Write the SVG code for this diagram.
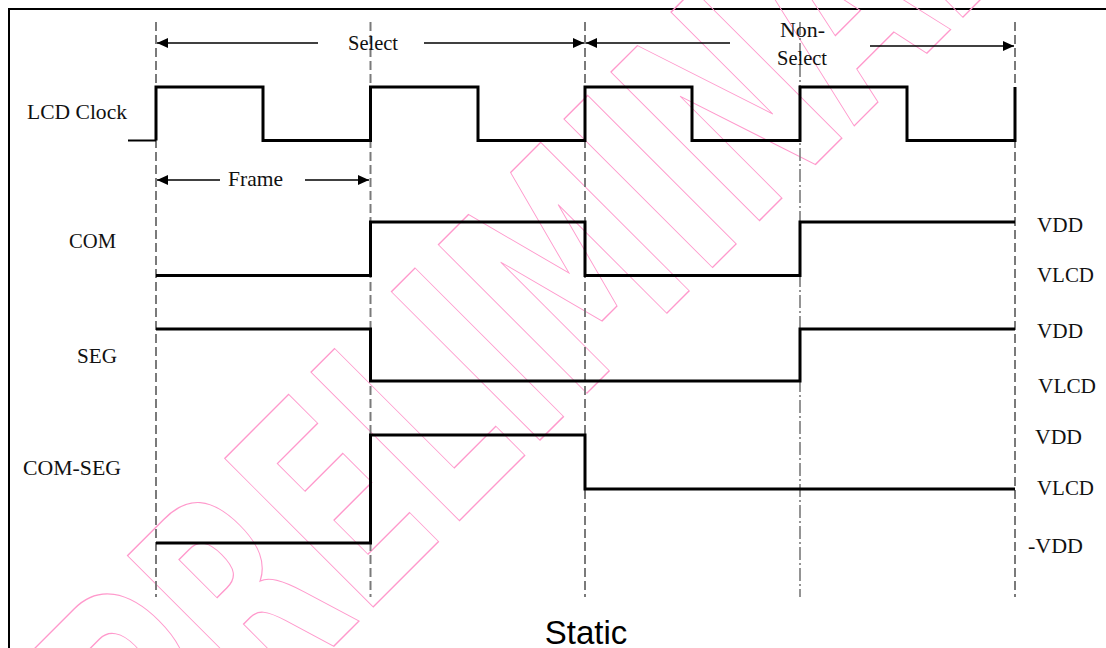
<svg xmlns="http://www.w3.org/2000/svg" width="1106" height="648" viewBox="0 0 1106 648">
<style>
.lbl{font-family:"Liberation Serif","Times New Roman",serif;font-size:21px;fill:#111}
.wave{fill:none;stroke:#000;stroke-width:3;stroke-linejoin:miter}
.grid{stroke:#7a7a7a;stroke-width:2;stroke-dasharray:9 4;fill:none}
.arr{stroke:#000;stroke-width:1.6;fill:none;marker-end:url(#ah)}
.wm{font-family:"DejaVu Sans",sans-serif;font-weight:bold;font-size:288px;fill:none;stroke:#ff99cc;stroke-width:1.4}
</style>
<defs>
<marker id="ah" viewBox="0 0 11 10" refX="11" refY="5" markerWidth="11" markerHeight="10" markerUnits="userSpaceOnUse" orient="auto">
<path d="M0,0 L11,5 L0,10 z" fill="#000"/>
</marker>
</defs>
<rect x="0" y="0" width="1106" height="648" fill="#fff"/>
<rect id="frame-border" x="9" y="9" width="1200" height="700" fill="none" stroke="#000" stroke-width="2"/>
<g id="watermark" transform="translate(373,607) rotate(-45) scale(0.62,1)">
<text class="wm" x="-459" y="0">PRELIMINARY</text>
</g>
<g id="gridlines">
<line class="grid" x1="156" y1="22" x2="156" y2="597"/>
<line class="grid" x1="370.5" y1="22" x2="370.5" y2="597"/>
<line class="grid" x1="585" y1="22" x2="585" y2="597"/>
<line class="grid" x1="800" y1="22" x2="800" y2="597" style="stroke-width:1.6;stroke-dasharray:13 3 2 3"/>
<line class="grid" x1="1015" y1="22" x2="1015" y2="597"/>
</g>
<g id="connectors">
<line class="arr" x1="318" y1="43" x2="157" y2="43"/>
<line class="arr" x1="424" y1="43" x2="584" y2="43"/>
<line class="arr" x1="730" y1="43" x2="586" y2="43"/>
<line class="arr" x1="870" y1="46" x2="1014" y2="46"/>
<line class="arr" x1="220" y1="180" x2="157" y2="180"/>
<line class="arr" x1="305" y1="180" x2="369" y2="180"/>
</g>
<g id="select-label"><text class="lbl" x="348" y="50" textLength="50" lengthAdjust="spacingAndGlyphs">Select</text></g>
<g id="nonselect-label">
<text class="lbl" x="780" y="37" textLength="45" lengthAdjust="spacingAndGlyphs">Non-</text>
<text class="lbl" x="777" y="65" textLength="50" lengthAdjust="spacingAndGlyphs">Select</text>
</g>
<g id="frame-label"><text class="lbl" x="228" y="186" textLength="55" lengthAdjust="spacingAndGlyphs">Frame</text></g>
<g id="lcd-clock">
<text class="lbl" x="27" y="119" textLength="100" lengthAdjust="spacingAndGlyphs">LCD Clock</text>
<path d="M128,140.5 H156" fill="none" stroke="#000" stroke-width="2"/>
<path class="wave" d="M156,140.5 V87 H263 V140.5 H370.5 V87 H478 V140.5 H585 V87 H692 V140.5 H800 V87 H907 V140.5 H1015 V87"/>
</g>
<g id="com">
<text class="lbl" x="69" y="248" textLength="47" lengthAdjust="spacingAndGlyphs">COM</text>
<path class="wave" d="M156,275.5 H370.5 V222 H585 V275.5 H800 V222 H1015"/>
</g>
<g id="seg">
<text class="lbl" x="77" y="363" textLength="40" lengthAdjust="spacingAndGlyphs">SEG</text>
<path class="wave" d="M156,329 H370.5 V381 H800 V329 H1015"/>
</g>
<g id="com-seg">
<text class="lbl" x="23" y="475" textLength="98" lengthAdjust="spacingAndGlyphs">COM-SEG</text>
<path class="wave" d="M156,543 H370.5 V435 H585 V489 H1015"/>
</g>
<g id="levels">
<text class="lbl" x="1037" y="232" textLength="46" lengthAdjust="spacingAndGlyphs">VDD</text>
<text class="lbl" x="1037" y="282" textLength="57" lengthAdjust="spacingAndGlyphs">VLCD</text>
<text class="lbl" x="1037" y="338" textLength="46" lengthAdjust="spacingAndGlyphs">VDD</text>
<text class="lbl" x="1038" y="393" textLength="58" lengthAdjust="spacingAndGlyphs">VLCD</text>
<text class="lbl" x="1035" y="444" textLength="47" lengthAdjust="spacingAndGlyphs">VDD</text>
<text class="lbl" x="1037" y="495" textLength="57" lengthAdjust="spacingAndGlyphs">VLCD</text>
<text class="lbl" x="1028" y="553" textLength="55" lengthAdjust="spacingAndGlyphs">-VDD</text>
</g>
<g id="title"><text x="586" y="644" text-anchor="middle" font-family="Liberation Sans, Arial, sans-serif" font-size="33" fill="#000">Static</text></g>
</svg>
